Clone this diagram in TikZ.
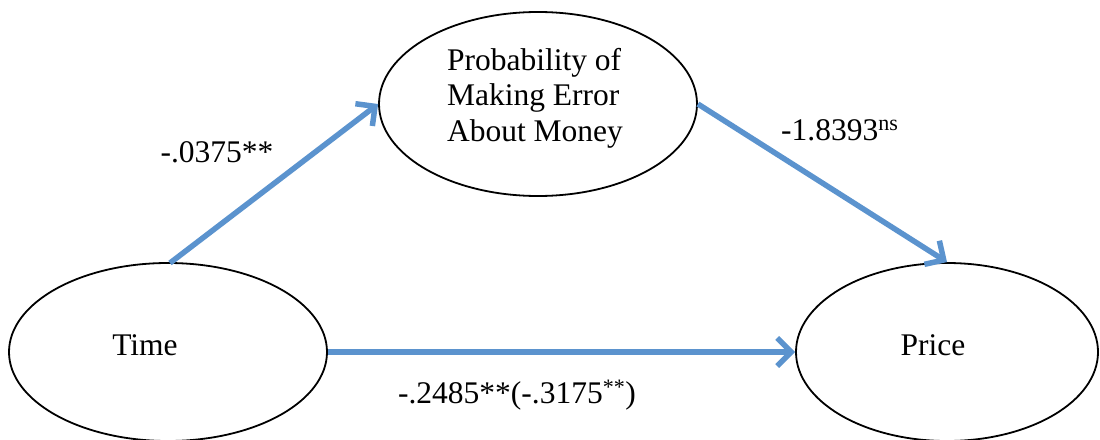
\documentclass[tikz,border=0pt]{standalone}
\usepackage{fontspec}
\setmainfont{Liberation Serif}
\usetikzlibrary{shapes.geometric,arrows.meta}
\definecolor{arrowblue}{HTML}{5B93CE}
\tikzset{
  oval/.style={draw=black, line width=1.8pt, ellipse, inner sep=0pt, fill=white},
  txt/.style={font=\fontsize{31.5}{35.5}\selectfont, inner sep=0pt},
  path/.style={draw=arrowblue, line width=5.5pt, -{Straight Barb[length=14pt,width=28pt,line width=5.5pt]}},
}
\begin{document}
\begin{tikzpicture}[x=1pt,y=-1pt]
\useasboundingbox (0,0) rectangle (1100,439);
\node[oval, minimum width=318pt, minimum height=184pt] (prob) at (538,104) {};
\node[oval, minimum width=318pt, minimum height=178pt] (time) at (168,352) {};
\node[oval, minimum width=302pt, minimum height=178pt] (price) at (947,352) {};
\node[txt, align=left] (probtxt) at (535,98) {Probability of\\Making Error\\About Money};
\node[txt] (timetxt) at (145,345) {Time};
\node[txt] (pricetxt) at (933,345) {Price};
\coordinate (a1s) at (170,263);
\draw[path] (a1s) -- (prob.west);
\draw[path] (prob.east) -- (price.north);
\draw[path] (time.east) -- (price.west);
\node[txt] (l1) at (217,152) {-.0375**};
\node[txt, anchor=base west] (l2) at (781,140) {-1.8393\textsuperscript{ns}};
\node[txt] (l3) at (517,395) {-.2485**(-.3175\textsuperscript{**})};
\end{tikzpicture}
\end{document}
